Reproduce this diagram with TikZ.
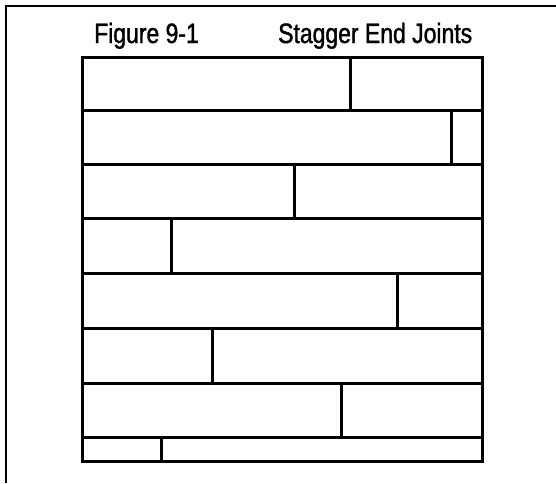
\documentclass[tikz,border=0pt]{standalone}
\usepackage{fontspec}
\setmainfont{Liberation Sans}[FakeStretch=0.82]
\newfontfamily\capfont{Liberation Sans}[FakeStretch=0.82, FakeBold=1.4]

\begin{document}
\begin{tikzpicture}
	[x=1pt, y=-1pt,
	 frame/.style={line width=2pt},
	 board/.style={line width=3pt},
	 caption/.style={font=\capfont\fontsize{28}{32}\selectfont, inner sep=0pt, anchor=base west}]
   \useasboundingbox (0,0) rectangle (556,483);
   % page frame, open to the right and bottom
   \coordinate (fb) at (6,483);
   \coordinate (fc) at (6,6);
   \coordinate (fr) at (556,6);
   \draw[frame] (fb) -- (fc) -- (fr);

   \node[caption] (fig) at (94,43) {Figure 9-1};
   \node[caption] (title) at (278,43) {Stagger End Joints};

   % outline of the floor
   \draw[board] (82,57) rectangle (482,461);
   % board seams
   \draw[board] (82,110) -- (482,110);
   \draw[board] (82,164) -- (482,164);
   \draw[board] (82,218) -- (482,218);
   \draw[board] (82,273) -- (482,273);
   \draw[board] (82,328) -- (482,328);
   \draw[board] (82,383) -- (482,383);
   \draw[board] (82,437) -- (482,437);
   % end joints
   \draw[board] (350,57) -- (350,110);
   \draw[board] (451,110) -- (451,164);
   \draw[board] (294,164) -- (294,218);
   \draw[board] (171,218) -- (171,273);
   \draw[board] (397,273) -- (397,328);
   \draw[board] (212,328) -- (212,383);
   \draw[board] (341,383) -- (341,437);
   \draw[board] (161,437) -- (161,461);
\end{tikzpicture}
\end{document}
